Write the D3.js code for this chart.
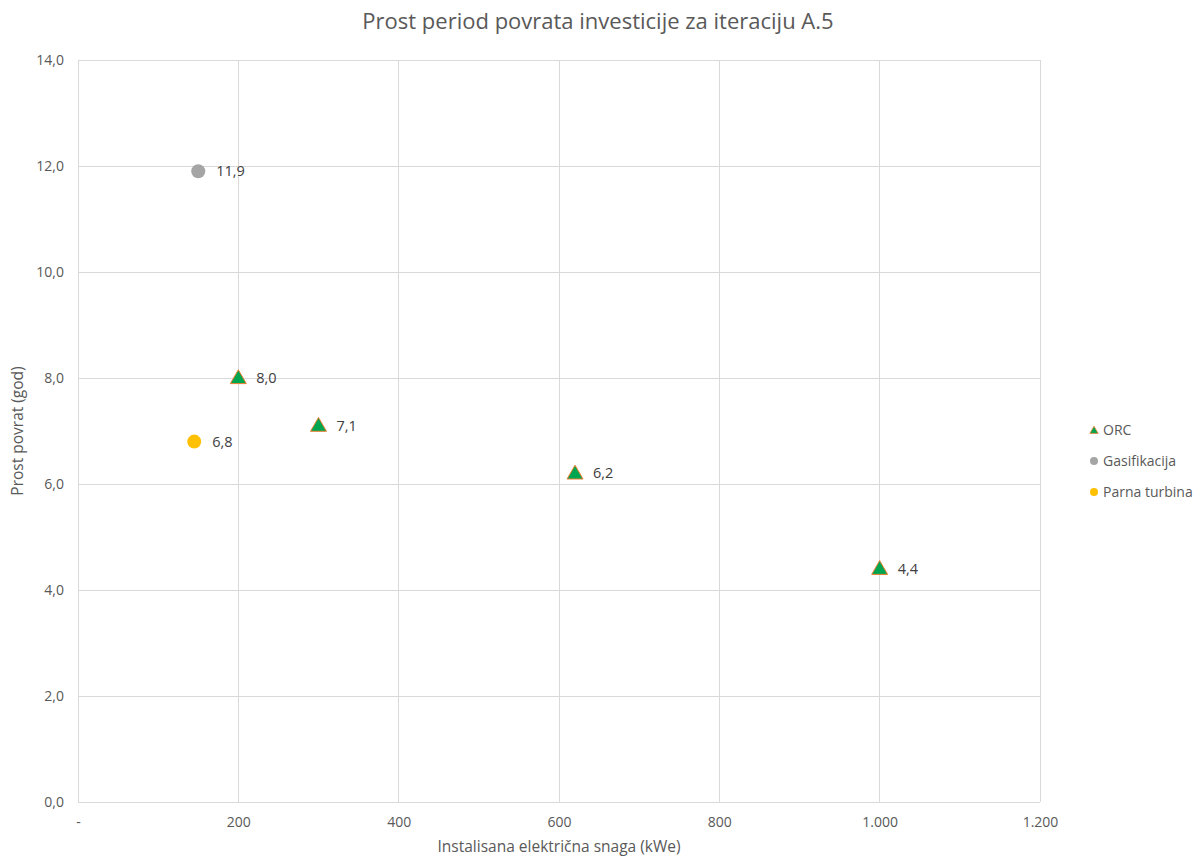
<!DOCTYPE html>
<html><head><meta charset="utf-8">
<script src="https://cdn.jsdelivr.net/npm/d3@7"></script>
<style>body{margin:0;background:#fff;} svg{display:block;font-family:"Open Sans","Liberation Sans",Arial,sans-serif;}</style>
</head><body>
<script>
const title = "Prost period povrata investicije za iteraciju A.5";
const xTitle = "Instalisana električna snaga (kWe)";
const yTitle = "Prost povrat (god)";
const seriesNames = ["ORC", "Gasifikacija", "Parna turbina"];
const orcX = [200, 300, 620, 1000];
const orcY = [8.0, 7.1, 6.2, 4.4];
const gasX = [150];
const gasY = [11.9];
const parnaX = [145];
const parnaY = [6.8];
const xTicks = [0, 200, 400, 600, 800, 1000, 1200];
const yTicks = [0, 2, 4, 6, 8, 10, 12, 14];

const W = 1195, H = 857;
const m = {l:78, r:155, t:60, b:55};
const FF = "'Open Sans','Liberation Sans',Arial,sans-serif";
const svg = d3.select("body").append("svg").attr("width", W).attr("height", H);
const x = d3.scaleLinear().domain([0,1200]).range([m.l, W-m.r]);
const y = d3.scaleLinear().domain([0,14]).range([H-m.b, m.t]);
const grid = "#d9d9d9", txt = "#595959";
const fmtY = v => d3.format(".1f")(v).replace(".", ",");
const fmtX = v => v === 0 ? "-" : d3.format(",")(v).replace(/,/g, ".");

// gridlines
svg.append("g").selectAll("line").data(xTicks).join("line")
  .attr("x1", d=>x(d)).attr("x2", d=>x(d)).attr("y1", y(0)).attr("y2", y(14))
  .attr("stroke", grid).attr("stroke-width", 1).attr("shape-rendering","crispEdges");
svg.append("g").selectAll("line").data(yTicks).join("line")
  .attr("x1", x(0)).attr("x2", x(1200)).attr("y1", d=>y(d)).attr("y2", d=>y(d))
  .attr("stroke", grid).attr("stroke-width", 1).attr("shape-rendering","crispEdges");

// axes via d3
const xAxis = svg.append("g").attr("transform", `translate(0,${y(0)})`)
  .call(d3.axisBottom(x).tickValues(xTicks).tickFormat(fmtX).tickSize(0).tickPadding(15));
const yAxis = svg.append("g").attr("transform", `translate(${x(0)},0)`)
  .call(d3.axisLeft(y).tickValues(yTicks).tickFormat(fmtY).tickSize(0).tickPadding(14));
[xAxis, yAxis].forEach(a => {
  a.select(".domain").remove();
  a.selectAll("text").attr("fill", txt).style("font-size","14px").style("font-family",FF);
});

// titles
svg.append("text").attr("x", 598).attr("y", 29).attr("text-anchor","middle")
  .attr("fill", txt).style("font-size","22px").text(title);
svg.append("text").attr("x", 559).attr("y", 852).attr("text-anchor","middle")
  .attr("fill", txt).style("font-size","15.5px").text(xTitle);
svg.append("text").attr("transform", `translate(23,${(y(0)+y(14))/2}) rotate(-90)`).attr("text-anchor","middle")
  .attr("fill", txt).style("font-size","15.5px").text(yTitle);

const lblColor = "#404040";
const tri = d3.symbol().type(d3.symbolTriangle).size(110);

// ORC
const orc = orcX.map((v,i)=>({x:v, y:orcY[i]}));
svg.append("g").selectAll("path").data(orc).join("path")
  .attr("d", tri).attr("transform", d=>`translate(${x(d.x)},${y(d.y)+1})`)
  .attr("fill", "#00A550").attr("stroke", "#ED7D31").attr("stroke-width", 1);
// Gasifikacija
const gas = gasX.map((v,i)=>({x:v, y:gasY[i]}));
svg.append("g").selectAll("circle").data(gas).join("circle")
  .attr("cx", d=>x(d.x)).attr("cy", d=>y(d.y)).attr("r", 7).attr("fill", "#A5A5A5");
// Parna
const parna = parnaX.map((v,i)=>({x:v, y:parnaY[i]}));
svg.append("g").selectAll("circle").data(parna).join("circle")
  .attr("cx", d=>x(d.x)).attr("cy", d=>y(d.y)).attr("r", 7).attr("fill", "#FFC000");

// labels
const all = [...orc, ...gas, ...parna];
svg.append("g").selectAll("text").data(all).join("text")
  .attr("x", d=>x(d.x)+18).attr("y", d=>y(d.y)+5)
  .attr("fill", lblColor).style("font-size","14.5px").text(d=>fmtY(d.y));

// legend
const lg = svg.append("g");
const ly = [430, 461, 492];
seriesNames.forEach((n,i)=>{
  if (i===0) {
    lg.append("path").attr("d", d3.symbol().type(d3.symbolTriangle).size(30))
      .attr("transform", `translate(1094,${ly[i]+1})`).attr("fill","#00A550").attr("stroke","#ED7D31").attr("stroke-width",0.8);
  } else {
    lg.append("circle").attr("cx",1094).attr("cy",ly[i]).attr("r",4).attr("fill", i===1?"#A5A5A5":"#FFC000");
  }
  lg.append("text").attr("x",1103).attr("y",ly[i]+5).attr("fill", txt).style("font-size","14px").text(n);
});
</script>
</body></html>
